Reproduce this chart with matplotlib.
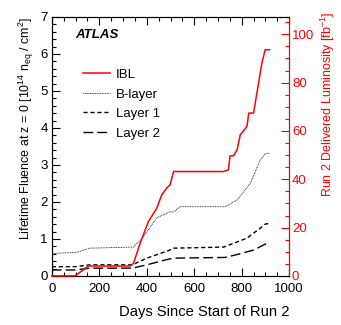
import matplotlib.pyplot as plt
import numpy as np

plt.rcParams['font.family'] = ['Liberation Sans', 'DejaVu Sans']
plt.rcParams['mathtext.fontset'] = 'custom'
plt.rcParams['mathtext.rm'] = 'Liberation Sans'
plt.rcParams['mathtext.it'] = 'Liberation Sans:italic'

# Delivered luminosity (right axis, fb^-1)
lumi_days = [0, 98, 154, 330, 344, 372, 407, 442, 463, 485, 498, 513, 723, 744, 751,
             765, 780, 794, 822, 830, 850, 871, 885, 899, 917]
lumi = [0, 0, 4.1, 4.1, 5.2, 13.5, 22.5, 28, 33.5, 36.5, 37.7, 43.2, 43.2, 43.9, 49.7,
        49.7, 52, 58.4, 61.8, 67.4, 67.4, 79.8, 88, 93.6, 93.6]

# Fluence (left axis, 1e14 neq/cm2)
blayer_days = [0, 100, 161, 344, 386, 442, 500, 513, 540, 730, 780, 836, 878, 899, 917]
blayer = [0.61, 0.63, 0.75, 0.78, 1.06, 1.57, 1.74, 1.72, 1.87, 1.87, 2.05, 2.5, 3.13, 3.3, 3.32]

layer1_days = [0, 100, 160, 340, 400, 490, 513, 724, 822, 878, 899, 917]
layer1 = [0.25, 0.25, 0.3, 0.3, 0.48, 0.68, 0.75, 0.78, 1.02, 1.29, 1.4, 1.42]

layer2_days = [0, 100, 160, 340, 400, 490, 513, 730, 794, 850, 906, 917]
layer2 = [0.16, 0.16, 0.21, 0.21, 0.3, 0.45, 0.48, 0.5, 0.6, 0.7, 0.88, 0.9]

fig = plt.figure(figsize=(3.41, 3.25), dpi=100)
ax = fig.add_axes([0.152, 0.151, 0.696, 0.797])
ax2 = ax.twinx()

l_b, = ax.plot(blayer_days, blayer, color='black', lw=0.6, ls=(0, (1, 1)))
l_1, = ax.plot(layer1_days, layer1, color='black', lw=1.0, ls=(0, (3, 2)))
l_2, = ax.plot(layer2_days, layer2, color='black', lw=1.0, ls=(0, (7, 3)))
l_i, = ax2.plot(lumi_days, lumi, color='red', lw=1.1, zorder=3, clip_on=False)

ax.set_xlim(0, 1000)
ax.set_ylim(0, 7)
ax2.set_ylim(0, 107.2)

ax.set_xticks(np.arange(0, 1001, 200))
ax.set_xticks(np.arange(0, 1001, 50), minor=True)
ax.set_yticks(np.arange(0, 8, 1))
ax.set_yticks(np.arange(0, 7.01, 0.2), minor=True)
ax2.set_yticks(np.arange(0, 101, 20))
ax2.set_yticks(np.arange(0, 106, 5), minor=True)

ax.tick_params(which='both', direction='in', top=True, right=False, labelsize=9.5, pad=3)
ax.tick_params(axis='x', pad=5)
ax.tick_params(which='major', length=6, width=0.8)
ax.tick_params(which='minor', length=3, width=0.8)
ax2.tick_params(which='both', direction='in', colors='red', labelsize=9.5, pad=2)
ax2.tick_params(which='major', length=6, width=0.8)
ax2.tick_params(which='minor', length=3, width=0.8)
ax2.spines['right'].set_color('red')

ax.set_xlabel('Days Since Start of Run 2', fontsize=10.6, loc='right', labelpad=7)
ax.set_ylabel(r'Lifetime Fluence at z = 0 [10$^{14}$ n$_{\rm eq}$ / cm$^2$]', fontsize=8.9,
              loc='top', labelpad=3)
ax2.set_ylabel(r'Run 2 Delivered Luminosity [fb$^{-1}$]', fontsize=9.0, color='red',
               y=1.02, ha='right', labelpad=3)

ax.text(0.098, 0.93, 'ATLAS', transform=ax.transAxes, fontsize=9.5, fontweight='bold',
        style='italic', va='center')

ax.legend([l_i, l_b, l_1, l_2], ['IBL', 'B-layer', 'Layer 1', 'Layer 2'],
          loc='upper left', bbox_to_anchor=(0.11, 0.82), frameon=False, fontsize=9.5,
          handlelength=2.0, handletextpad=0.45, labelspacing=0.55, borderaxespad=0)

fig.savefig('out.png', dpi=100)
